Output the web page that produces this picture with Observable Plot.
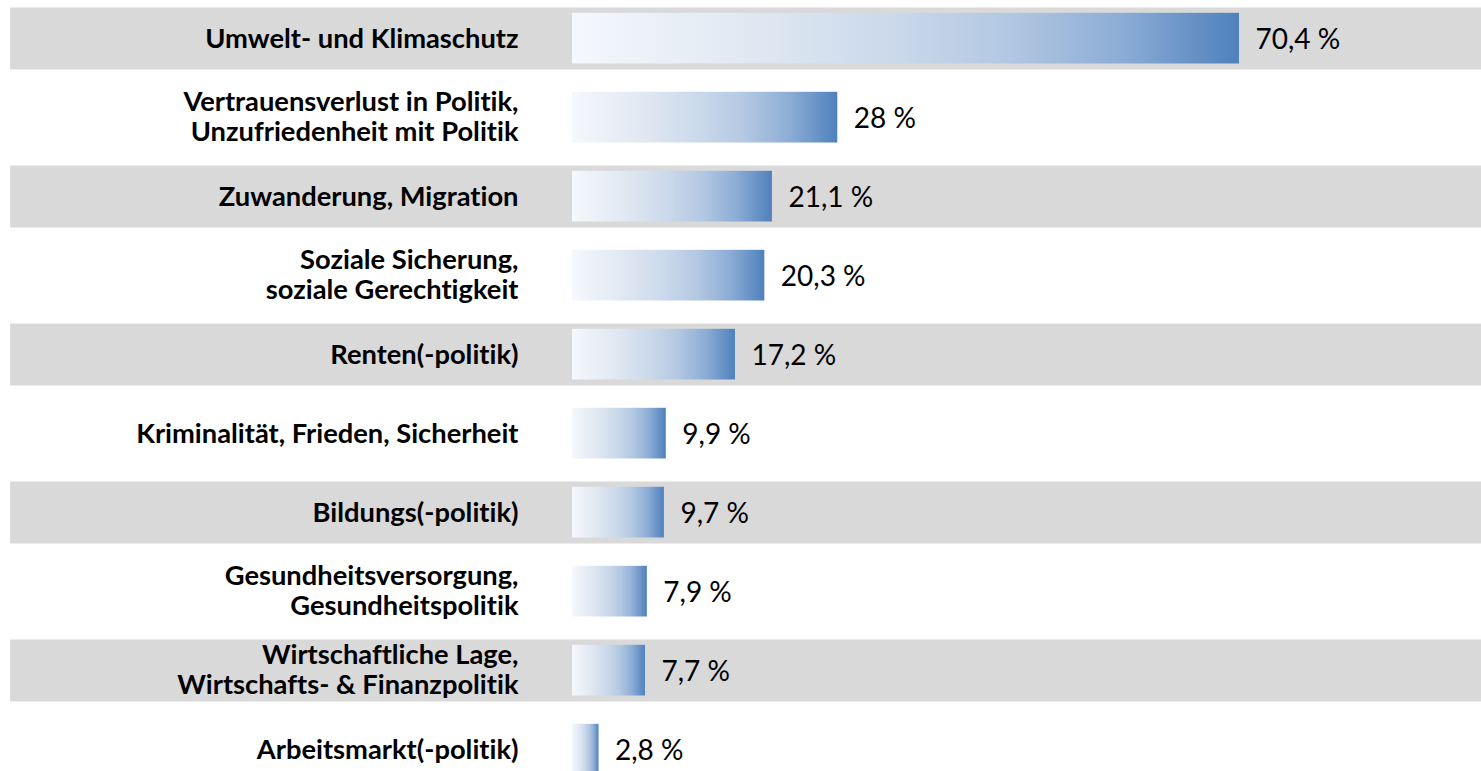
<!DOCTYPE html>
<html>
<head>
<meta charset="utf-8">
<script src="https://cdn.jsdelivr.net/npm/d3@7"></script>
<script src="https://cdn.jsdelivr.net/npm/@observablehq/plot@0.6"></script>
<style>
  html, body { margin: 0; padding: 0; background: #fff; }
  #chart svg { display: block; font-variant-ligatures: none; font-feature-settings: "liga" 0, "clig" 0; }
</style>
</head>
<body>
<div id="chart"></div>
<script>
const categories = [
  "Umwelt- und Klimaschutz",
  "Vertrauensverlust in Politik,\nUnzufriedenheit mit Politik",
  "Zuwanderung, Migration",
  "Soziale Sicherung,\nsoziale Gerechtigkeit",
  "Renten(-politik)",
  "Kriminalität, Frieden, Sicherheit",
  "Bildungs(-politik)",
  "Gesundheitsversorgung,\nGesundheitspolitik",
  "Wirtschaftliche Lage,\nWirtschafts- & Finanzpolitik",
  "Arbeitsmarkt(-politik)"
];
const values = [70.4, 28, 21.1, 20.3, 17.2, 9.9, 9.7, 7.9, 7.7, 2.8];
const shadedRows = [true, false, true, false, true, false, true, false, true, false];

const data = categories.map((c, i) => ({label: c, value: values[i], shaded: shadedRows[i]}));
const xDomain = [-60.37, 95.94];
const bandExtent = [-59.3, 96];

const fmt = v => String(v).replace(".", ",") + " %";

function gradientDefs() {
  const ns = "http://www.w3.org/2000/svg";
  const defs = document.createElementNS(ns, "defs");
  const g = document.createElementNS(ns, "linearGradient");
  g.setAttribute("id", "barGrad");
  g.setAttribute("x1", "0"); g.setAttribute("x2", "1");
  g.setAttribute("y1", "0"); g.setAttribute("y2", "0");
  [[0, "#f5f8fc"], [0.3, "#dde6f1"], [0.5, "#c8d7ea"], [0.65, "#b3c8e2"], [0.82, "#8dadd6"], [1, "#4f81bd"]].forEach(([o, c]) => {
    const s = document.createElementNS(ns, "stop");
    s.setAttribute("offset", o);
    s.setAttribute("stop-color", c);
    g.appendChild(s);
  });
  defs.appendChild(g);
  return defs;
}

const labelStyle = {
  x: () => 0, y: "label", text: "label",
  textAnchor: "end", dx: -54,
  fontSize: 27.3, fontWeight: "bold", fill: "#000", lineHeight: 1.1
};

const chart = Plot.plot({
  width: 1481,
  height: 771,
  marginLeft: 0, marginRight: 0, marginTop: 0, marginBottom: 0,
  x: {domain: xDomain, range: [0, 1481], axis: null},
  y: {domain: categories, range: [-1.03, 789.6], padding: 0, axis: null},
  style: {fontFamily: "Lato, sans-serif", background: "#fff"},
  marks: [
    gradientDefs,
    Plot.barX(data.filter(d => d.shaded), {
      x1: () => bandExtent[0], x2: () => bandExtent[1], y: "label",
      fill: "#d9d9d9", insetTop: 8.5, insetBottom: 8.5
    }),
    Plot.barX(data, {
      x1: () => 0, x2: "value", y: "label",
      fill: "url(#barGrad)", insetTop: 13.8, insetBottom: 14.5
    }),
    Plot.text(data.filter(d => !d.label.includes("\n")), {...labelStyle, dy: -1}),
    Plot.text(data.filter(d => d.label.includes("\n")), {...labelStyle, dy: -2}),
    Plot.text(data, {
      x: "value", y: "label", text: d => fmt(d.value),
      textAnchor: "start", dx: 16, dy: 1.5,
      fontSize: 28, fill: "#000"
    })
  ]
});
document.getElementById("chart").appendChild(chart);
</script>
</body>
</html>
